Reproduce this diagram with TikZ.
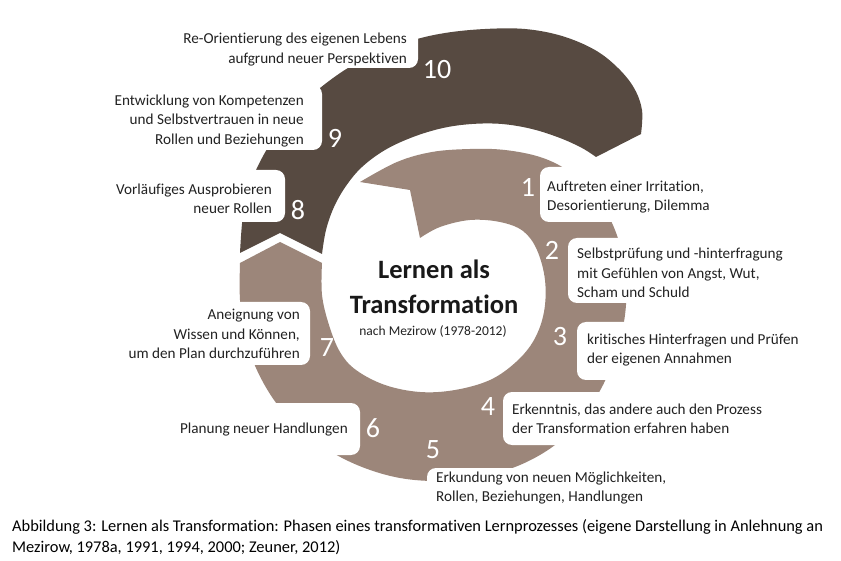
\documentclass[tikz,border=0pt]{standalone}
\usepackage{fontspec}
\setmainfont{Carlito}[Ligatures=NoCommon]
\definecolor{lightb}{RGB}{156,134,122}
\definecolor{darkb}{RGB}{87,74,65}
\definecolor{txt}{RGB}{34,34,34}
\begin{document}
\begin{tikzpicture}[x=1pt,y=-1pt,
  lbl/.style={font=\fontsize{15.2}{19.5}\selectfont, text=txt, inner sep=0pt},
  lblr/.style={lbl, align=right, anchor=east},
  lbll/.style={lbl, align=left, anchor=west},
  num/.style={font=\fontsize{28}{30}\selectfont, text=white, inner sep=0pt},
  wbox/.style={fill=white, rounded corners=9pt}]
\useasboundingbox (0,0) rectangle (841,561);
\fill[white] (0,0) rectangle (841,561);

% light band (steps 1-7)
\fill[lightb] (360,182) -- (410,190) -- (420,238)
  -- plot[smooth, tension=0.6] coordinates {(420,238) (440,227) (470,220) (500,222) (523,231) (537,250) (545,280) (544,312) (534,340) (516,362) (490,380) (455,390) (420,392) (385,385) (356,370) (340,352) (329,325) (322,295) (322,263)}
  -- (280,242) -- (240,263)
  -- plot[smooth, tension=0.6] coordinates {(240,263) (240,300) (245,335) (256,368) (274,400) (298,428) (328,450) (362,467) (400,478) (440,481) (480,477) (520,465) (555,445) (582,418) (603,385) (617,350) (625,315) (626,280) (620,245) (608,215) (590,190) (567,170) (540,157) (505,150) (470,149) (432,152) (397,162) (360,182)}
  -- cycle;

% dark band (steps 8-10)
\fill[darkb] (240,253) -- (280,233) -- (322,254)
  -- plot[smooth, tension=0.6] coordinates {(322,254) (326,230) (334,207) (346,186) (362,167) (385,150) (413,137) (443,128) (472,124) (502,124) (532,129) (560,138) (582,148) (596,157)}
  -- (641,134)
  -- plot[smooth, tension=0.6] coordinates {(641,134) (642,110) (634,88) (618,68) (595,50) (562,36) (525,29) (485,29) (445,33) (410,41) (378,53) (348,68) (320,88) (298,108) (278,132) (262,158) (250,185) (243,215) (240,253)}
  -- cycle;

% white label boxes cutting into the bands
\fill[wbox] (150,10) rectangle (418,68);
\fill[wbox] (90,85) rectangle (322,150);
\fill[wbox] (80,170) rectangle (285,222);
\fill[wbox] (60,302) rectangle (310,365);
\fill[wbox] (150,403) rectangle (360,455);
\fill[wbox] (427,468) rectangle (720,512);
\fill[wbox] (503,392) rectangle (800,445);
\fill[wbox] (577,322) rectangle (820,380);
\fill[wbox] (568,238) rectangle (800,303);
\fill[wbox] (540,167) rectangle (720,222);

% numbers
\node[num] (n10) at (437,70) {10};
\node[num] (n9) at (335,138) {9};
\node[num] (n8) at (298,210) {8};
\node[num] (n7) at (327,348) {7};
\node[num] (n6) at (373,428) {6};
\node[num] (n5) at (433,450) {5};
\node[num] (n4) at (488,407) {4};
\node[num] (n3) at (560,337) {3};
\node[num] (n2) at (552,250) {2};
\node[num] (n1) at (528,187) {1};

% labels
\node[lblr] (t10) at (407,49.5) {Re-Orientierung des eigenen Lebens\\aufgrund neuer Perspektiven};
\node[lblr] (t9) at (304,121) {Entwicklung von Kompetenzen\\und Selbstvertrauen in neue\\Rollen und Beziehungen};
\node[lblr] (t8) at (272,199) {Vorläufiges Ausprobieren\\neuer Rollen};
\node[lblr] (t7) at (300,334) {Aneignung von\\Wissen und Können,\\um den Plan durchzuführen};
\node[lblr] (t6) at (348,430) {Planung neuer Handlungen};
\node[lbll] (t5) at (436,488) {Erkundung von neuen Möglichkeiten,\\Rollen, Beziehungen, Handlungen};
\node[lbll] (t4) at (512,419) {Erkenntnis, das andere auch den Prozess\\der Transformation erfahren haben};
\node[lbll] (t3) at (587,350) {kritisches Hinterfragen und Prüfen\\der eigenen Annahmen};
\node[lbll] (t2) at (577,273) {Selbstprüfung und -hinterfragung\\mit Gefühlen von Angst, Wut,\\Scham und Schuld};
\node[lbll] (t1) at (547,197) {Auftreten einer Irritation,\\Desorientierung, Dilemma};

% centre title
\node[font=\fontsize{26.5}{35}\selectfont\bfseries, text=black!90, align=center, inner sep=0pt] (title) at (434,287) {Lernen als\\Transformation};
\node[font=\fontsize{13.5}{16}\selectfont, text=txt, inner sep=0pt] (sub) at (433,331) {nach Mezirow (1978-2012)};

% caption
\node[font=\fontsize{16.4}{21}\selectfont, text=black, align=left, anchor=west, inner sep=0pt] (cap) at (12,537.5) {Abbildung 3: Lernen als Transformation: Phasen eines transformativen Lernprozesses (eigene Darstellung in Anlehnung an\\Mezirow, 1978a, 1991, 1994, 2000; Zeuner, 2012)};
\end{tikzpicture}
\end{document}
